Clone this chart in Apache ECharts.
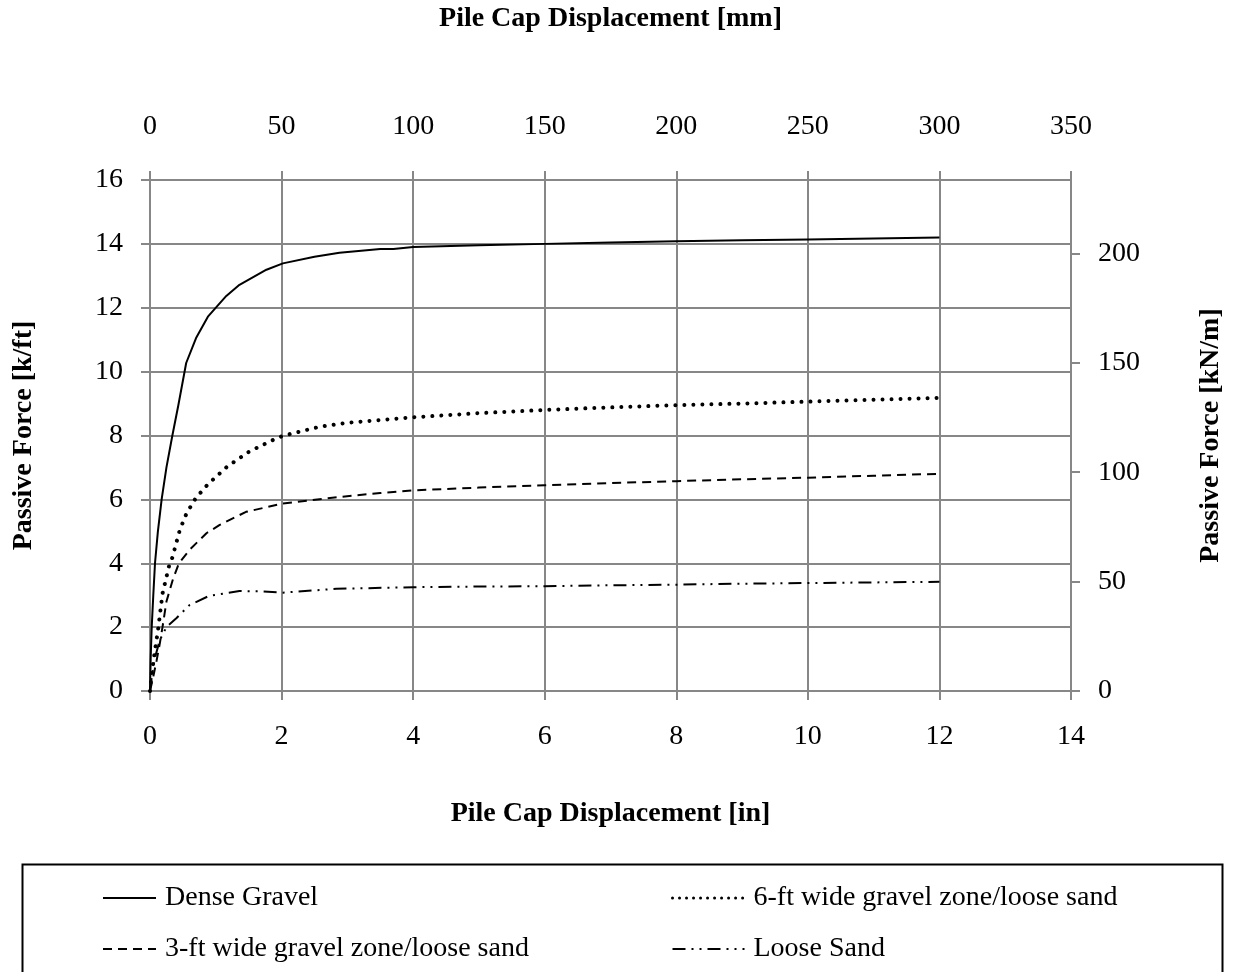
<!DOCTYPE html>
<html>
<head>
<meta charset="utf-8">
<script src="https://cdn.jsdelivr.net/npm/echarts@6/dist/echarts.min.js"></script>
<style>
  html, body { margin: 0; padding: 0; background: #fff; }
  #chart { width: 1233px; height: 972px; }
</style>
</head>
<body>
<div id="chart"></div>
<script>
// Passive force vs. pile cap displacement for four backfill conditions.
const seriesNames = [
  'Dense Gravel',
  '6-ft wide gravel zone/loose sand',
  '3-ft wide gravel zone/loose sand',
  'Loose Sand'
];

// Displacement [in] / passive force [k/ft]
const denseGravelX = [0, 0.01, 0.026, 0.05, 0.076, 0.12, 0.177, 0.25, 0.34, 0.43, 0.55, 0.7, 0.88, 1.16, 1.36, 1.77, 2.02, 2.5, 2.88, 3.5, 3.7, 4, 5, 6, 7, 8, 9, 10, 11, 12];
const denseGravelY = [0, 1.0, 2.0, 3.0, 4.0, 5.0, 6.0, 7.0, 8.0, 8.94, 10.27, 11.05, 11.72, 12.37, 12.72, 13.19, 13.39, 13.6, 13.72, 13.84, 13.84, 13.9, 13.96, 14.0, 14.04, 14.08, 14.11, 14.14, 14.17, 14.2];

const gravel6ftX = [0, 0.03, 0.07, 0.126, 0.19, 0.29, 0.34, 0.454, 0.555, 0.696, 0.883, 1.17, 1.51, 1.89, 2.02, 2.57, 3, 4, 5, 6, 7, 8, 9, 10, 11, 12];
const gravel6ftY = [0, 0.6, 1.2, 1.97, 3.05, 3.92, 4.18, 5.05, 5.56, 6.04, 6.48, 7.02, 7.5, 7.88, 7.99, 8.27, 8.4, 8.57, 8.7, 8.8, 8.88, 8.95, 9.0, 9.06, 9.12, 9.18];

const gravel3ftX = [0, 0.05, 0.1, 0.15, 0.19, 0.25, 0.35, 0.44, 0.605, 0.858, 1.06, 1.46, 2.02, 2.77, 3.5, 4, 5, 6, 7, 8, 9, 10, 11, 12];
const gravel3ftY = [0, 0.45, 0.95, 1.5, 2.0, 2.8, 3.51, 4.0, 4.43, 4.94, 5.2, 5.61, 5.87, 6.05, 6.2, 6.28, 6.37, 6.44, 6.51, 6.57, 6.63, 6.68, 6.74, 6.8];

const looseSandX = [0, 0.03, 0.076, 0.15, 0.25, 0.4, 0.6, 0.9, 1.36, 1.66, 2.02, 2.83, 4, 5, 6, 7, 8, 9, 10, 11, 12];
const looseSandY = [0, 0.5, 1.05, 1.6, 2.0, 2.28, 2.69, 2.98, 3.13, 3.12, 3.08, 3.2, 3.25, 3.27, 3.28, 3.31, 3.33, 3.36, 3.38, 3.4, 3.42];

// Axis ranges and tick steps
const inchTicks = { min: 0, max: 14, step: 2 };
const mmTicks = { min: 0, max: 350, step: 50 };
const kftTicks = { min: 0, max: 16, step: 2 };
const knmTicks = { min: 0, step: 50 };
const KN_PER_M_PER_K_PER_FT = 14.5939;

const FONT = 'Liberation Serif';
const AXIS_GRAY = '#878787';

function zip(xs, ys) { return xs.map((x, i) => [x, ys[i]]); }

// Fresh style objects per axis so no option object is shared between axes
const axisLineStyle = () => ({ show: true, onZero: false, lineStyle: { color: AXIS_GRAY, width: 2 } });
const axisTickStyle = () => ({ show: true, inside: false, length: 9, lineStyle: { color: AXIS_GRAY, width: 2 } });
const labelStyle = (margin) => ({ margin, fontSize: 28, fontFamily: FONT, color: '#000' });
const nameStyle = () => ({ fontSize: 28, fontWeight: 'bold', fontFamily: FONT, color: '#000' });
const gridLine = () => ({ show: true, lineStyle: { color: AXIS_GRAY, width: 2 } });

const chart = echarts.init(document.getElementById('chart'), null, { renderer: 'canvas' });

const lineSeries = (name, xs, ys, lineStyle) => ({
  name,
  type: 'line',
  xAxisIndex: 0,
  yAxisIndex: 0,
  data: zip(xs, ys),
  color: '#000',
  showSymbol: false,
  symbol: 'none',
  smooth: false,
  silent: true,
  z: 5,
  lineStyle: Object.assign({ color: '#000', width: 2 }, lineStyle)
});

const legendBase = () => ({
  orient: 'vertical', top: 879, height: 160,
  itemHeight: 14, itemGap: 23,
  selectedMode: false,
  itemStyle: { opacity: 0 },
  textStyle: { fontSize: 28, fontFamily: FONT, color: '#000', padding: [0, 0, 0, 4] }
});

chart.setOption({
  backgroundColor: '#fff',
  animation: false,
  textStyle: { fontFamily: FONT },
  grid: { left: 150, right: 158, top: 170, bottom: 281, containLabel: false },
  xAxis: [
    {
      type: 'value', position: 'bottom',
      min: inchTicks.min, max: inchTicks.max, interval: inchTicks.step,
      axisLine: axisLineStyle(), axisTick: axisTickStyle(),
      axisLabel: labelStyle(32),
      splitLine: gridLine(),
      name: 'Pile Cap Displacement [in]', nameLocation: 'middle', nameGap: 109,
      nameTextStyle: nameStyle()
    },
    {
      type: 'value', position: 'top',
      min: mmTicks.min, max: mmTicks.max, interval: mmTicks.step,
      axisLine: axisLineStyle(), axisTick: axisTickStyle(),
      axisLabel: labelStyle(39),
      splitLine: { show: false },
      name: 'Pile Cap Displacement [mm]', nameLocation: 'middle', nameGap: 147,
      nameTextStyle: nameStyle()
    }
  ],
  yAxis: [
    {
      type: 'value', position: 'left',
      min: kftTicks.min, max: kftTicks.max, interval: kftTicks.step,
      axisLine: axisLineStyle(), axisTick: axisTickStyle(),
      axisLabel: labelStyle(27),
      splitLine: gridLine(),
      name: 'Passive Force [k/ft]', nameLocation: 'middle', nameGap: 112, nameRotate: 90,
      nameTextStyle: nameStyle()
    },
    {
      type: 'value', position: 'right',
      min: knmTicks.min, max: kftTicks.max * KN_PER_M_PER_K_PER_FT, interval: knmTicks.step,
      axisLine: axisLineStyle(),
      axisTick: axisTickStyle(),
      axisLabel: Object.assign(labelStyle(27), { showMaxLabel: false }),
      splitLine: { show: false },
      name: 'Passive Force [kN/m]', nameLocation: 'middle', nameGap: 126, nameRotate: 90,
      nameTextStyle: nameStyle()
    }
  ],
  legend: [
    Object.assign(legendBase(), {
      data: [seriesNames[0], seriesNames[2]],
      left: 97, itemWidth: 53
    }),
    Object.assign(legendBase(), {
      data: [
        { name: seriesNames[1], lineStyle: { width: 3, type: [0.01, 7], cap: 'round' } },
        seriesNames[3]
      ],
      left: 666, itemWidth: 72
    })
  ],
  graphic: [
    {
      type: 'rect', left: 20, top: 862, silent: true,
      shape: { width: 1200, height: 112 },
      style: { fill: 'none', stroke: '#000', lineWidth: 2 }
    }
  ],
  series: [
    lineSeries(seriesNames[0], denseGravelX, denseGravelY, { type: 'solid' }),
    lineSeries(seriesNames[1], gravel6ftX, gravel6ftY, { type: [0.01, 9], width: 4, cap: 'round' }),
    lineSeries(seriesNames[2], gravel3ftX, gravel3ftY, { type: [9, 6] }),
    lineSeries(seriesNames[3], looseSandX, looseSandY, { type: [13, 6, 2, 6, 2, 6] })
  ]
});
</script>
</body>
</html>
